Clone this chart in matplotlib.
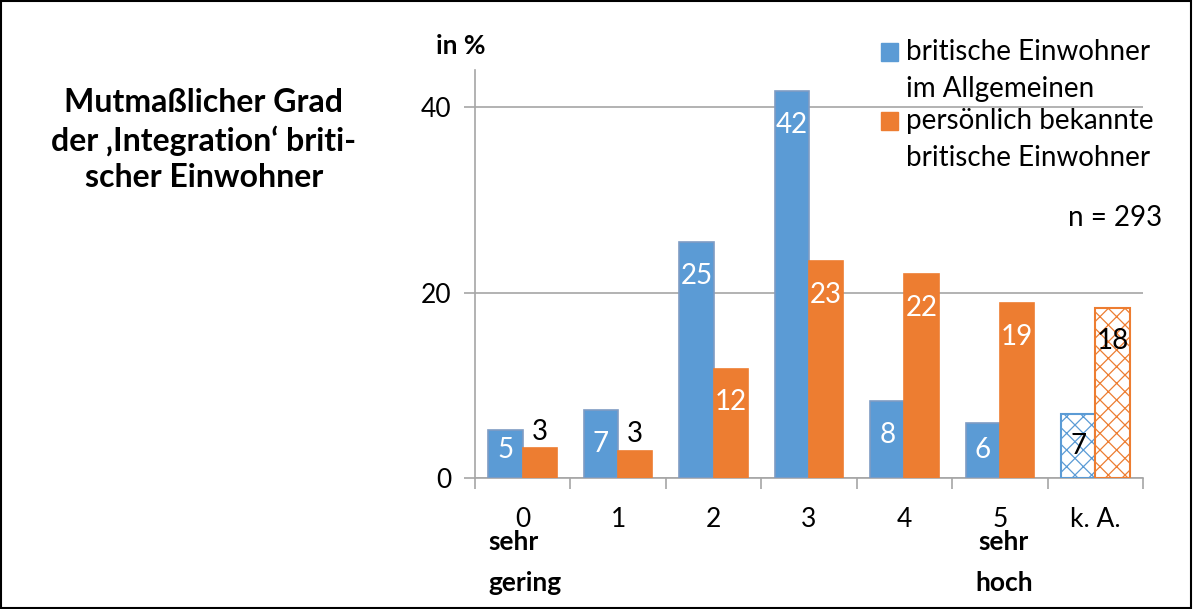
import matplotlib
matplotlib.use("Agg")
import matplotlib.pyplot as plt
from matplotlib.patches import Rectangle
import numpy as np

plt.rcParams['font.family'] = ['Lato', 'DejaVu Sans']
plt.rcParams['hatch.linewidth'] = 0.9

# Anteile in Prozent je Skalenwert
categories = ['0', '1', '2', '3', '4', '5', 'k. A.']
allgemein = [5.2, 7.3, 25.4, 41.7, 8.3, 5.9, 6.9]
bekannt = [3.2, 2.9, 11.8, 23.4, 22.0, 18.9, 18.3]
series_names = ['britische Einwohner\nim Allgemeinen',
                'persönlich bekannte\nbritische Einwohner']
title = 'Mutmaßlicher Grad\nder \u201aIntegration\u2018 briti-\nscher Einwohner'
n_text = 'n = 293'

BLUE = '#5B9BD5'
ORANGE = '#ED7D31'
GRID = '#A6A6A6'
FS = 20

W, H = 1193, 609
fig = plt.figure(figsize=(W / 100, H / 100), dpi=100)


def fx(x):
    return x / W


def fy(y):
    return 1 - y / H


ax = fig.add_axes([fx(475), fy(478), fx(1143) - fx(475), fy(70) - fy(478)])

x = np.arange(len(categories))
bw = 0.36
hatched = len(categories) - 1  # "k. A." wird schraffiert dargestellt

for i in x:
    for vals, col, off in ((allgemein, BLUE, -bw / 2), (bekannt, ORANGE, bw / 2)):
        v = vals[i]
        if i == hatched:
            ax.bar(i + off, v, bw, facecolor='white', edgecolor=col,
                   hatch='xx', linewidth=1.5, zorder=3)
            ax.text(i + off, v - 3.5, f'{v:.0f}', ha='center', va='center',
                    fontsize=FS, color='black', zorder=4)
        else:
            ec = '#7F9CC4' if col == BLUE else col
            ax.bar(i + off, v, bw, color=col, edgecolor=ec, linewidth=1.2, zorder=3)
            if v < 4:
                ax.text(i + off, v + 1.8, f'{v:.0f}', ha='center', va='center',
                        fontsize=FS, color='black', zorder=4)
            else:
                ax.text(i + off, max(v - 3.65, 3.0), f'{v:.0f}', ha='center',
                        va='center', fontsize=FS, color='white', zorder=4)

ax.set_xlim(-0.5, len(categories) - 0.5)
ax.set_ylim(0, 44)
ax.set_yticks([0, 20, 40])
ax.yaxis.grid(True, color=GRID, linewidth=1.2, zorder=0)
ax.set_axisbelow(True)

ax.set_xticks(np.arange(-0.5, len(categories), 1.0))
ax.set_xticklabels([])
ax.set_xticks(x, minor=True)
ax.set_xticklabels(categories, minor=True, fontsize=FS - 1)
ax.tick_params(axis='x', which='major', length=8, color=GRID, width=1.2)
ax.tick_params(axis='x', which='minor', length=0, pad=21)
ax.tick_params(axis='y', length=8, color=GRID, width=1.2, labelsize=FS - 1, pad=9)

for s in ('top', 'right'):
    ax.spines[s].set_visible(False)
for s in ('left', 'bottom'):
    ax.spines[s].set_color(GRID)
    ax.spines[s].set_linewidth(1.2)

# Skalenenden
fig.text(fx(488), fy(542), 'sehr', fontsize=FS - 1, fontweight='bold',
         ha='left', va='center')
fig.text(fx(488), fy(583), 'gering', fontsize=FS - 1, fontweight='bold',
         ha='left', va='center')
fig.text(fx(1004), fy(542), 'sehr', fontsize=FS - 1, fontweight='bold',
         ha='center', va='center')
fig.text(fx(1004), fy(583), 'hoch', fontsize=FS - 1, fontweight='bold',
         ha='center', va='center')

fig.text(fx(461), fy(46), 'in %', fontsize=FS - 1, fontweight='bold',
         ha='center', va='center')

fig.text(fx(204), fy(140), title, fontsize=23, fontweight='bold',
         ha='center', va='center', linespacing=1.3)

# Legende
for k, (name, col) in enumerate(zip(series_names, (BLUE, ORANGE))):
    y0 = 52 + k * 69
    fig.patches.append(Rectangle((fx(881), fy(y0 + 9)), fx(17), 18 / H,
                                 transform=fig.transFigure, color=col))
    fig.text(fx(906), fy(y0), name.split('\n')[0], fontsize=FS,
             ha='left', va='center')
    fig.text(fx(906), fy(y0 + 37), name.split('\n')[1], fontsize=FS,
             ha='left', va='center')

fig.text(fx(1162), fy(218), n_text, fontsize=FS, ha='right', va='center')

# Rahmen
fig.patches.append(Rectangle((0.001, 0.002), 0.997, 0.996, transform=fig.transFigure,
                             fill=False, edgecolor='black', linewidth=1.5))

fig.savefig('out.png', dpi=100)
